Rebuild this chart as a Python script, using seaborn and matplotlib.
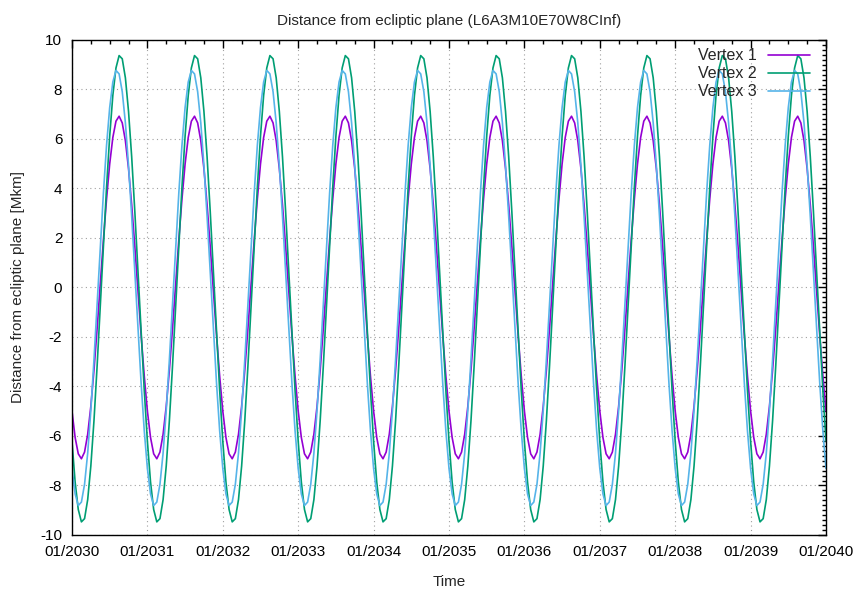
import numpy as np
import pandas as pd
import seaborn as sns
import matplotlib.pyplot as plt
from matplotlib.ticker import MultipleLocator, FuncFormatter

# values, 24 samples per year (every half month), Mkm
# the three curves repeat the same shape every year from 2030 to 2040
years = list(range(2030, 2040))
steps_per_year = 24
vertex1 = [-4.99, -6.06, -6.72, -6.92, -6.65, -5.93, -4.80, -3.34, -1.66, 0.13, 1.92, 3.57,
           4.99, 6.06, 6.72, 6.92, 6.65, 5.93, 4.80, 3.34, 1.66, -0.13, -1.92, -3.57]
vertex2 = [-6.21, -7.86, -8.97, -9.47, -9.34, -8.57, -7.21, -5.38, -3.17, -0.76, 1.70, 4.05,
           6.11, 7.76, 8.87, 9.37, 9.24, 8.47, 7.11, 5.28, 3.07, 0.66, -1.80, -4.15]
vertex3 = [-7.31, -8.34, -8.81, -8.67, -7.95, -6.69, -4.97, -2.92, -0.66, 1.63, 3.81, 5.74,
           7.27, 8.30, 8.77, 8.63, 7.91, 6.65, 4.93, 2.88, 0.62, -1.67, -3.85, -5.78]
names = ['Vertex 1', 'Vertex 2', 'Vertex 3']
colors = ['#9400d3', '#009e73', '#56b4e9']
xtick_years = list(range(2030, 2041))

rows = []
for name, prof in zip(names, [vertex1, vertex2, vertex3]):
    for y in years:
        for k, v in enumerate(prof):
            rows.append((y + k / steps_per_year, v, name))
    rows.append((years[-1] + 1, prof[0], name))
df = pd.DataFrame(rows, columns=['time', 'distance', 'vertex'])

sns.set_theme(style='white')
plt.rcParams['font.family'] = ['Liberation Sans', 'DejaVu Sans']

fig = plt.figure(figsize=(8.58, 5.89), dpi=100)
ax = fig.add_axes([0.0839, 0.0917, 0.8788, 0.8404])

sns.lineplot(data=df, x='time', y='distance', hue='vertex', palette=colors,
             linewidth=1.2, ax=ax, sort=False, estimator=None)

ax.set_xlim(2030, 2040)
ax.set_ylim(-10, 10)
ax.set_xticks(xtick_years)
ax.xaxis.set_major_formatter(FuncFormatter(lambda v, p: '01/%d' % round(v)))
ax.xaxis.set_minor_locator(MultipleLocator(0.25))
ax.yaxis.set_major_locator(MultipleLocator(2))
ax.yaxis.set_minor_locator(MultipleLocator(0.2))
ax.yaxis.set_major_formatter(FuncFormatter(lambda v, p: '%d' % round(v)))

ax.tick_params(which='both', direction='in', top=True, right=True, colors='black',
               labelsize=11, width=1.0)
ax.tick_params(which='major', length=6, pad=7)
ax.tick_params(which='minor', length=3)
for s in ax.spines.values():
    s.set_color('black')
    s.set_linewidth(1.0)

ax.grid(True, which='major', linestyle=(0, (1, 3)), color='#a0a0a0', linewidth=0.8)

ax.set_title('Distance from ecliptic plane (L6A3M10E70W8CInf)', fontsize=11, pad=11)
ax.set_xlabel('Time', fontsize=11, labelpad=12)
ax.set_ylabel('Distance from ecliptic plane [Mkm]', fontsize=11, labelpad=11)

handles, labels = ax.get_legend_handles_labels()
ax.legend(handles, labels, loc='upper right', frameon=False, markerfirst=False,
          fontsize=11.5, handlelength=2.6, handletextpad=0.7, labelspacing=0.18,
          borderaxespad=0.0, bbox_to_anchor=(0.987, 0.996))

fig.savefig('out.png', dpi=100)
